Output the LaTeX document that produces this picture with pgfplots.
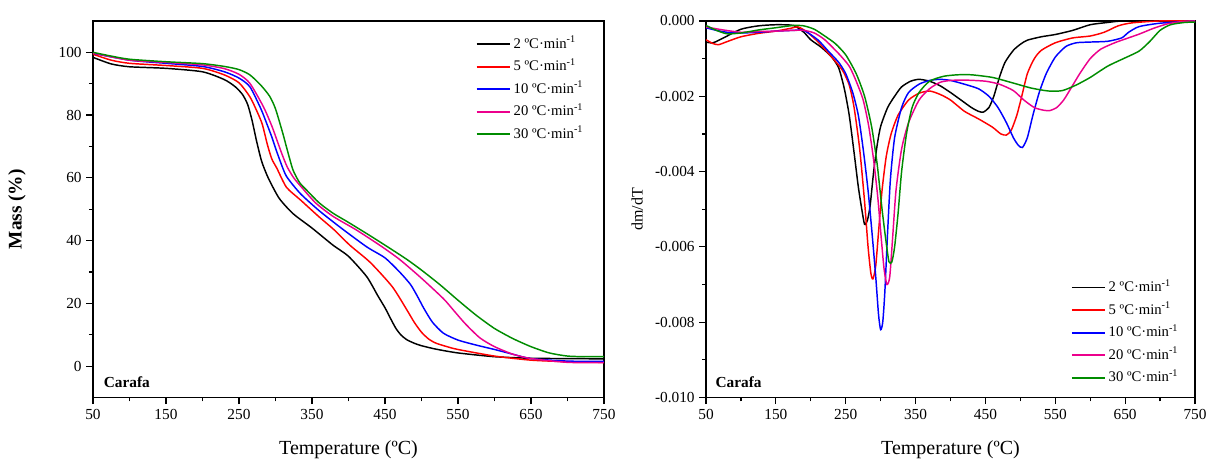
\documentclass[border=0pt]{standalone}
\usepackage{fontspec}
\setmainfont{Liberation Serif}
\usepackage{pgfplots}
\pgfplotsset{compat=1.18}
\definecolor{cgreen}{rgb}{0,0.55,0}
\pgfplotsset{
  every axis/.append style={
    scale only axis,
    xmin=50, xmax=750,
    xtick={50,150,...,750},
    minor x tick num=1, minor y tick num=1,
    tick align=outside, tick pos=left,
    major tick length=5pt, minor tick length=3pt,
    axis line style={line width=0.9pt},
    every tick/.style={line width=0.9pt, black},
    /pgf/number format/assume math mode=true,
    tick label style={font=\fontsize{11.5}{13}\selectfont},
    legend cell align=left,
    legend style={draw=none, fill=none, font=\fontsize{11}{13}\selectfont,
      row sep=2.9pt, nodes={text height=8pt, text depth=2pt, inner sep=2pt}},
    legend image code/.code={\draw[#1, line width=1.4pt] (0pt,0pt) -- (25pt,0pt);},
    every axis plot/.append style={line width=1.1pt, smooth, tension=0.4},
  },
}
\newcommand{\rate}[1]{#1 ºC·min\textsuperscript{-1}}
\begin{document}
\begin{tikzpicture}[x=1pt,y=1pt]
\useasboundingbox (0,0) rectangle (906,344.25);
%%%%%%%%%%%%%%%% TG
\begin{axis}[at={(69.75pt,46.125pt)}, anchor=south west,
  width=383.25pt, height=282.4pt,
  ymin=-10, ymax=110, ytick={0,20,...,100},
  xlabel={Temperature (ºC)}, ylabel={\textbf{Mass (\%)}},
  every axis x label/.style={at={(axis description cs:0.5,-0.139)}, anchor=center, font=\fontsize{15}{17}\selectfont},
  every axis y label/.style={at={(axis description cs:-0.149,0.5)}, rotate=90, anchor=center, font=\fontsize{14.5}{17}\selectfont},
  legend style={at={(0.973,0.971)}, anchor=north east},
]
\addplot[black] coordinates {(50,98.4)(75,96.3)(100,95.4)(150,94.9)(200,93.8)(230,91.3)(245,89.0)(255,86.5)(262,83.3)(268,78.2)(274,71.8)(281,65.3)(290,60.0)(305,53.5)(324,48.6)(350,44)(379,38.5)(400,35)(425,28.5)(440,22.5)(450,18.6)(458,15)(465,12)(472,9.9)(480,8.4)(490,7.3)(500,6.5)(520,5.4)(550,4.2)(600,3.0)(650,2.5)(700,2.4)(750,2.3)};
\addlegendentry{\rate{2}}
\addplot[red] coordinates {(50,99.4)(75,97.5)(100,96.5)(150,95.8)(200,94.9)(230,92.8)(250,90.3)(265,85.8)(275,81)(282,77)(289,70.5)(295,66)(302,63)(315,57)(334,53)(360,47.5)(380,43.5)(402,38.5)(430,33)(460,25.3)(480,17.9)(490,14)(500,10.8)(510,8.6)(520,7.3)(535,6.2)(550,5.3)(600,3.2)(650,1.9)(700,1.4)(750,1.2)};
\addlegendentry{\rate{5}}
\addplot[blue] coordinates {(50,99.7)(100,97.5)(150,96.5)(200,95.5)(230,93.8)(250,91.8)(265,89)(280,82)(288,77.3)(295,73)(300,69.5)(306,65.6)(315,60.5)(334,55)(360,49.5)(390,44)(425,38)(450,34.5)(470,30)(485,26)(495,22)(503,18.5)(515,14)(530,10.5)(550,8.3)(575,6.7)(600,5.3)(625,3.8)(650,2.4)(700,1.6)(750,1.5)};
\addlegendentry{\rate{10}}
\addplot[magenta] coordinates {(50,99.8)(100,97.5)(150,96.8)(200,96)(230,94.8)(250,93)(265,90.1)(283.6,82.6)(295,76.5)(302,72)(309,67.5)(316,63.5)(325,60)(335,57.2)(355,52)(379,47.7)(410,43.5)(443,38.5)(470,34)(500,28)(530,21.5)(545,17.5)(560,13.5)(580,9)(600,6.2)(625,3.8)(650,2.4)(700,1.2)(750,1.1)};
\addlegendentry{\rate{20}}
\addplot[cgreen] coordinates {(50,100)(75,98.8)(100,97.8)(150,97)(200,96.4)(230,95.5)(250,94.5)(265,92.8)(280,89.5)(292,86)(300,82)(310,74.2)(316,69)(324,62.5)(333,58.5)(343,56)(360,52)(379,48.7)(400,45.8)(430,41.5)(457,37.5)(480,34)(500,30.6)(525,26)(550,21)(575,16.2)(600,12)(625,8.8)(650,6.2)(675,4.2)(700,3.2)(725,3.0)(750,3.0)};
\addlegendentry{\rate{30}}
\node[anchor=base west, font=\bfseries\fontsize{11.5}{13}\selectfont] at (rel axis cs:0.012,0.026) {Carafa};
\end{axis}
%%%%%%%%%%%%%%%% DTG
\begin{axis}[at={(529.5pt,46.125pt)}, anchor=south west,
  width=366.75pt, height=282.4pt,
  ymin=-0.010, ymax=0, ytick={-0.010,-0.008,...,0.0001},
  scaled y ticks=false,
  yticklabel style={/pgf/number format/fixed, /pgf/number format/precision=3, /pgf/number format/fixed zerofill},
  xlabel={Temperature (ºC)}, ylabel={dm/dT},
  every axis x label/.style={at={(axis description cs:0.5,-0.139)}, anchor=center, font=\fontsize{15}{17}\selectfont},
  every axis y label/.style={at={(axis description cs:-0.141,0.5)}, rotate=90, anchor=center, font=\fontsize{12}{14}\selectfont},
  legend style={at={(0.98,0.02)}, anchor=south east},
]
\addplot[black] coordinates {(50,-0.00056)(60,-0.00058)(75,-0.00045)(100,-0.00022)(125,-0.00013)(150,-0.00010)(175,-0.00012)(190,-0.00030)(200,-0.00050)(215,-0.00070)(230,-0.00096)(240,-0.00125)(248,-0.0018)(255,-0.0025)(262,-0.0035)(268,-0.0044)(273,-0.0050)(277,-0.0054)(281,-0.0053)(285,-0.0049)(290,-0.0040)(295,-0.0033)(300,-0.0028)(310,-0.0023)(320,-0.0020)(330,-0.00175)(343,-0.00160)(355,-0.00155)(370,-0.00160)(385,-0.00172)(400,-0.0019)(415,-0.0021)(430,-0.0023)(440,-0.00240)(447,-0.00242)(455,-0.00230)(462,-0.0020)(470,-0.0015)(478,-0.0011)(490,-0.00078)(500,-0.00062)(510,-0.00051)(530,-0.00042)(550,-0.00036)(575,-0.00025)(600,-0.00010)(625,-0.00004)(650,0)(750,0)};
\addlegendentry{\rate{2}}
\addplot[red] coordinates {(50,-0.00050)(60,-0.00060)(68,-0.00063)(80,-0.00055)(100,-0.00042)(125,-0.00033)(150,-0.00027)(170,-0.00020)(182,-0.00016)(195,-0.00030)(210,-0.00055)(230,-0.00096)(245,-0.0013)(255,-0.0017)(262,-0.0023)(270,-0.0034)(277,-0.0048)(282,-0.0060)(286,-0.0067)(289,-0.00685)(293,-0.0065)(297,-0.0056)(302,-0.0045)(308,-0.0036)(315,-0.0030)(325,-0.0025)(340,-0.0021)(355,-0.00192)(370,-0.00186)(385,-0.00195)(400,-0.0021)(420,-0.0024)(440,-0.0026)(460,-0.00282)(472,-0.0030)(480,-0.00303)(487,-0.0029)(495,-0.0025)(502,-0.0020)(510,-0.0014)(520,-0.0010)(530,-0.00078)(550,-0.00058)(575,-0.00045)(600,-0.00040)(620,-0.00030)(640,-0.00013)(660,-0.00005)(700,0)(750,0)};
\addlegendentry{\rate{5}}
\addplot[blue] coordinates {(50,-0.00018)(65,-0.00025)(80,-0.00030)(100,-0.00032)(125,-0.00030)(150,-0.00027)(175,-0.00025)(190,-0.00025)(210,-0.00050)(225,-0.00080)(240,-0.0011)(250,-0.0014)(260,-0.0019)(268,-0.0025)(275,-0.0034)(282,-0.0045)(288,-0.0057)(293,-0.0068)(297,-0.0078)(300,-0.0082)(303,-0.0080)(306,-0.0072)(310,-0.0056)(314,-0.0042)(320,-0.0031)(330,-0.0023)(340,-0.0019)(355,-0.00168)(370,-0.00158)(385,-0.00155)(400,-0.00158)(420,-0.00168)(440,-0.0018)(455,-0.0020)(468,-0.0023)(480,-0.0027)(490,-0.0031)(497,-0.0033)(503,-0.00336)(510,-0.0031)(518,-0.0025)(527,-0.0019)(537,-0.0014)(550,-0.00096)(565,-0.00068)(580,-0.00058)(600,-0.00056)(625,-0.00054)(645,-0.00045)(655,-0.00030)(670,-0.00015)(700,-0.00006)(750,0)};
\addlegendentry{\rate{10}}
\addplot[magenta] coordinates {(50,-0.00016)(75,-0.00024)(100,-0.00030)(125,-0.00028)(150,-0.00027)(175,-0.00025)(190,-0.00025)(205,-0.00032)(220,-0.00050)(240,-0.00087)(255,-0.0012)(265,-0.0016)(275,-0.0021)(283,-0.0028)(290,-0.0037)(296,-0.0047)(301,-0.0058)(305,-0.0066)(309,-0.0070)(313,-0.0068)(317,-0.0058)(322,-0.0045)(330,-0.0034)(340,-0.0027)(355,-0.0021)(370,-0.0018)(385,-0.00163)(400,-0.00158)(420,-0.00157)(450,-0.00160)(470,-0.00168)(490,-0.00185)(505,-0.0021)(520,-0.0023)(533,-0.00237)(542,-0.00238)(552,-0.0023)(562,-0.0021)(572,-0.0018)(585,-0.0014)(600,-0.00100)(615,-0.00075)(635,-0.00058)(650,-0.00048)(670,-0.00035)(690,-0.00020)(710,-0.00008)(730,-0.00002)(750,0)};
\addlegendentry{\rate{20}}
\addplot[cgreen] coordinates {(50,-0.00012)(65,-0.00025)(80,-0.00034)(100,-0.00032)(125,-0.00024)(150,-0.00018)(175,-0.00012)(190,-0.00013)(205,-0.00022)(220,-0.00040)(235,-0.00060)(250,-0.00090)(265,-0.0014)(277,-0.0020)(287,-0.0028)(295,-0.0038)(302,-0.0050)(308,-0.0059)(312,-0.0064)(316,-0.0064)(320,-0.0060)(325,-0.0051)(330,-0.0040)(337,-0.0030)(345,-0.0023)(355,-0.0019)(370,-0.00160)(390,-0.00147)(410,-0.00143)(430,-0.00143)(460,-0.00150)(490,-0.00165)(515,-0.00178)(540,-0.00186)(560,-0.00185)(580,-0.00170)(600,-0.00150)(625,-0.00120)(650,-0.00098)(670,-0.00080)(685,-0.00055)(700,-0.00025)(715,-0.00010)(735,-0.00004)(750,-0.00003)};
\addlegendentry{\rate{30}}
\node[anchor=base west, font=\bfseries\fontsize{11.5}{13}\selectfont] at (rel axis cs:0.01,0.026) {Carafa};
\end{axis}
\end{tikzpicture}
\end{document}
